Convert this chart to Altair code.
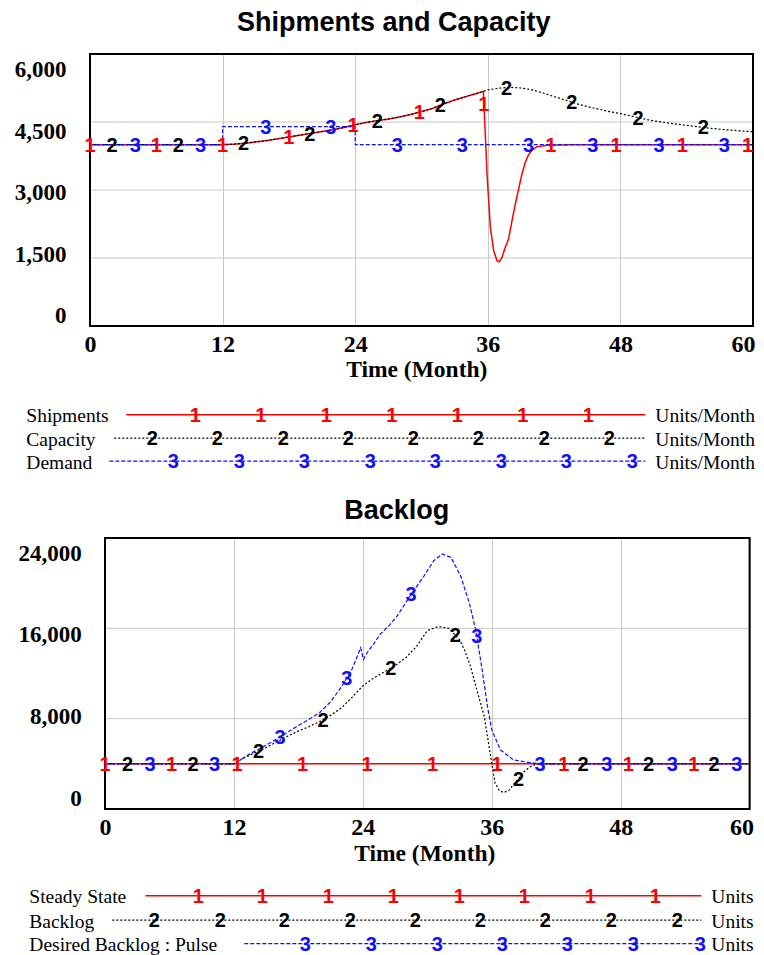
import altair as alt
import numpy as np
import pandas as pd

# ---------------- Shipments and Capacity (Units/Month) ----------------
capacity_t = [0, 12, 13, 14, 15, 16, 17, 18, 19, 20, 21, 22, 23, 24, 25, 26, 27, 28, 29, 30,
              31, 32, 33, 34, 35, 35.6, 36, 37, 38, 39, 40, 41, 42, 43, 44, 45, 46, 47, 48, 49,
              50, 51, 52, 53, 54, 55, 56, 57, 58, 59, 60]
capacity_v = [4000, 4000, 4010, 4030, 4060, 4090, 4130, 4170, 4210, 4250, 4290, 4330, 4380, 4440,
              4490, 4530, 4565, 4610, 4665, 4730, 4800, 4900, 4985, 5060, 5130, 5175, 5210, 5245,
              5265, 5250, 5210, 5140, 5060, 4985, 4905, 4840, 4785, 4730, 4685, 4630, 4575, 4525,
              4490, 4455, 4425, 4395, 4365, 4340, 4320, 4300, 4285]

shipments_t = [0, 12, 13, 14, 15, 16, 17, 18, 19, 20, 21, 22, 23, 24, 25, 26, 27, 28, 29, 30,
               31, 32, 33, 34, 35, 35.6, 35.8, 35.93, 36.23, 36.53, 36.83, 37.04, 37.28, 37.58,
               37.88, 38.19, 38.49, 38.79, 39.09, 39.39, 39.69, 40.0, 40.45, 41.36, 44, 60]
shipments_v = [4000, 4000, 4010, 4030, 4060, 4090, 4130, 4170, 4210, 4250, 4290, 4330, 4380, 4440,
               4490, 4530, 4565, 4610, 4665, 4730, 4800, 4900, 4985, 5060, 5130, 5175, 4088, 3353,
               2176, 1661, 1441, 1418, 1514, 1735, 1919, 2323, 2691, 3022, 3353, 3610, 3779, 3882,
               3955, 3985, 4000, 4000]

demand_t = [0, 12, 24, 60]
demand_v = [4000, 4400, 4000, 4000]

shipments_marks = [0, 6, 12, 18, 23.8, 29.8, 35.65, 41.7, 47.6, 53.6, 59.5]
capacity_marks = [2.0, 8.0, 13.9, 19.9, 26.0, 31.7, 37.7, 43.6, 49.6, 55.5]
demand_marks = [4.1, 10.0, 15.9, 21.8, 27.8, 33.7, 39.7, 45.5, 51.5, 57.4]

# ---------------- Backlog (Units) ----------------
steady_t = [0, 60]
steady_v = [4000, 4000]

backlog_t = [0, 12, 13, 14, 15, 16, 17, 18, 19, 20, 21, 22, 23, 24, 25, 26, 27, 28, 29, 30, 31,
             32, 33, 33.5, 34, 34.6, 35.3, 35.9, 36.3, 36.7, 37.1, 37.6, 38, 38.5, 39, 39.5, 40,
             41, 60]
backlog_v = [4000, 4000, 4550, 5000, 5450, 5950, 6450, 6900, 7300, 7750, 8300, 8950, 9900, 10900,
             11600, 12150, 12700, 13400, 14400, 15800, 16150, 16000, 15000, 14000, 12700, 10600,
             8200, 4650, 2300, 1650, 1450, 1650, 2150, 2700, 3300, 3700, 3920, 4000, 4000]

desired_t = [0, 12, 13, 14, 15, 16, 17, 18, 19, 20, 21, 22, 23, 23.8, 24.05, 24.4, 25, 25.6,
             26.5, 27.2, 28.4, 29.7, 30.6, 31.4, 32.2, 33.1, 33.9, 34.5, 35.1, 35.6, 36.0, 36.8,
             38.0, 39.3, 40.5, 60]
desired_v = [4000, 4000, 4600, 5150, 5650, 6200, 6800, 7400, 7950, 8550, 9500, 10800, 12400,
             14281, 13244, 13837, 14600, 15467, 16300, 17096, 18874, 20652, 21985, 22578, 22281,
             20652, 18281, 15911, 12355, 9096, 7022, 5244, 4356, 4148, 4000, 4000]

steady_marks = [0, 6.2, 12.3, 18.4, 24.4, 30.5, 36.5, 42.7, 48.7, 54.8]
backlog_marks = [2.1, 8.2, 14.3, 20.3, 26.6, 32.6, 38.5, 44.5, 50.6, 56.7]
desired_marks = [4.2, 10.2, 16.3, 22.5, 28.5, 34.6, 40.5, 46.7, 52.8, 58.8]

top_title = "Shipments and Capacity"
bot_title = "Backlog"
top_names = ["Shipments", "Capacity", "Demand"]
top_units = ["Units/Month", "Units/Month", "Units/Month"]
bot_names = ["Steady State", "Backlog", "Desired Backlog : Pulse"]
bot_units = ["Units", "Units", "Units"]
x_ticks = [0, 12, 24, 36, 48, 60]
top_y_ticks = [0, 1500, 3000, 4500, 6000]
bot_y_ticks = [0, 8000, 16000, 24000]

# ---------------- styles / layout (page-pixel positions of decorations) ----------------
SERIF = "Liberation Serif, Times New Roman, serif"
SANS = "Liberation Sans, Arial, sans-serif"
COLORS = ["#ff0000", "#000000", "#1010ff"]
DASHES = [[1, 0], [2, 2], [4, 2]]
WIDTHS = [1.5, 1.2, 1.2]
GRID = "#c8c8c8"
MARK_SIZE = 20
VIEW_LEFT = 89.7  # both panels share this view origin; the Backlog frame is inset

TOP_LAYOUT = dict(
    x0=89.7, x1=752.7, top=53.3, H=272, ymax=6000, ylab_pad=24,
    ylab_expr="22.8 - 26*(6000 - datum.value)/6000",
    xlab_expr="datum.value == 60 ? -10 : 0",
    xlab_pad=25, xtitle_x=416, xtitle_y=50,
    title_xy=(393.5, 30),
    leg_rows=[414, 437.5, 460.5], name_x=26, units_x=655, leg_end=645,
    leg_start=[126, 114, 109],
    leg_marks=[[195, 260.5, 326, 391.5, 457, 522.5, 588],
               [152, 217, 283, 348, 413, 478, 544, 609],
               [173, 239, 304, 370, 435, 501, 566, 632]],
)
BOT_LAYOUT = dict(
    x0=104.7, x1=749.3, top=539.3, H=271, ymax=24000, ylab_pad=8.7,
    ylab_expr="22.3 - 26*(24000 - datum.value)/24000",
    xlab_expr="datum.value == 60 ? -8 : 0",
    xlab_pad=25, xtitle_x=424, xtitle_y=51,
    title_xy=(396.5, 520),
    leg_rows=[897, 921.5, 945], name_x=29, units_x=711, leg_end=701,
    leg_start=[145, 112, 244],
    leg_marks=[[198, 262, 328, 393, 459, 524, 590, 655],
               [154, 220, 284, 350, 415, 480, 545, 611, 677],
               [305, 371, 437, 502, 567, 633, 700]],
)


def sample(t, v, ts, step=False):
    t = np.asarray(t, float)
    v = np.asarray(v, float)
    ts = np.asarray(ts, float)
    if step:
        idx = np.clip(np.searchsorted(t, ts, side="right") - 1, 0, len(v) - 1)
        return v[idx]
    return np.interp(ts, t, v)


def make_panel(title, series, marks, names, units, yticks, L):
    W = L["x1"] - VIEW_LEFT
    H = L["H"]
    X = alt.X("t:Q", scale=alt.Scale(domain=[0, 60], range=[L["x0"] - VIEW_LEFT, W],
                                     nice=False, zero=False),
              axis=alt.Axis(values=x_ticks, format="d", title="Time (Month)",
                            titleFont=SERIF, titleFontSize=23.5, titleFontWeight="bold",
                            titleColor="black", titleBaseline="alphabetic", titleAlign="center",
                            titleX=L["xtitle_x"] - VIEW_LEFT, titleY=L["xtitle_y"],
                            labelFont=SERIF, labelFontSize=24, labelFontWeight="bold",
                            labelColor="black", labelBaseline="alphabetic",
                            labelOffset=alt.ExprRef(L["xlab_expr"]),
                            labelPadding=L["xlab_pad"], labelFlush=False, labelOverlap=False,
                            ticks=False, tickSize=0, domain=False,
                            grid=True, gridColor=GRID, gridWidth=1))
    Y = alt.Y("v:Q", scale=alt.Scale(domain=[0, L["ymax"]], nice=False, zero=False),
              axis=alt.Axis(values=yticks, format=",d", title=None,
                            labelFont=SERIF, labelFontSize=23, labelFontWeight="bold",
                            labelColor="black", labelBaseline="alphabetic", labelAlign="right",
                            labelPadding=L["ylab_pad"], labelOffset=alt.ExprRef(L["ylab_expr"]),
                            labelFlush=False, labelOverlap=False,
                            ticks=False, tickSize=0, domain=False, grid=False))
    layers = []
    gdf = pd.DataFrame({"v": yticks, "t": 0, "t2": 60})
    layers.append(alt.Chart(gdf).mark_rule(color=GRID, strokeWidth=1)
                  .encode(x=X, x2="t2:Q", y=Y))
    for i, (t, v, step) in enumerate(series):
        df = pd.DataFrame({"t": t, "v": v})
        layers.append(
            alt.Chart(df).mark_line(color=COLORS[i], strokeDash=DASHES[i], strokeWidth=WIDTHS[i],
                                    interpolate="step-after" if step else "linear")
            .encode(x=X, y=Y))
    fdf = pd.DataFrame({"t": [0], "t2": [60], "v": [0], "v2": [L["ymax"]]})
    layers.append(alt.Chart(fdf).mark_rect(fillOpacity=0, stroke="black", strokeWidth=2)
                  .encode(x=X, x2="t2:Q", y=Y, y2="v2:Q"))
    for i, (t, v, step) in enumerate(series):
        mt = marks[i]
        df = pd.DataFrame({"t": mt, "v": sample(t, v, mt, step), "s": str(i + 1)})
        layers.append(
            alt.Chart(df).mark_text(font=SANS, fontSize=MARK_SIZE, fontWeight="bold",
                                    color=COLORS[i], baseline="alphabetic", dy=7)
            .encode(x=X, y=Y, text="s:N"))
    main = alt.layer(*layers)

    LX = alt.Scale(domain=[VIEW_LEFT, VIEW_LEFT + W], range=[0, W], nice=False, zero=False)
    LY = alt.Scale(domain=[L["top"], L["top"] + H], range=[0, H], nice=False, zero=False)
    lx = alt.X("x:Q", scale=LX, axis=None)
    ly = alt.Y("y:Q", scale=LY, axis=None)
    leg = []
    tx, ty = L["title_xy"]
    leg.append(
        alt.Chart(pd.DataFrame({"x": [tx], "y": [ty], "s": [title]}))
        .mark_text(font=SANS, fontSize=27, fontWeight="bold", color="black",
                   align="center", baseline="alphabetic")
        .encode(x=lx, y=ly, text="s:N"))
    for i in range(3):
        ry = L["leg_rows"][i]
        ldf = pd.DataFrame({"x": [L["leg_start"][i]], "x2": [L["leg_end"]], "y": [ry]})
        leg.append(
            alt.Chart(ldf).mark_rule(color=COLORS[i], strokeDash=DASHES[i], strokeWidth=WIDTHS[i])
            .encode(x=lx, x2="x2:Q", y=ly))
        mdf = pd.DataFrame({"x": L["leg_marks"][i], "y": ry, "s": str(i + 1)})
        leg.append(
            alt.Chart(mdf).mark_text(font=SANS, fontSize=MARK_SIZE, fontWeight="bold",
                                     color=COLORS[i], baseline="alphabetic", dy=7)
            .encode(x=lx, y=ly, text="s:N"))
        tdf = pd.DataFrame({"x": [L["name_x"], L["units_x"]], "y": [ry, ry],
                            "s": [names[i], units[i]]})
        leg.append(
            alt.Chart(tdf).mark_text(font=SERIF, fontSize=19.5, align="left",
                                     baseline="alphabetic", dy=7.7, color="black")
            .encode(x=lx, y=ly, text="s:N"))
    legend = alt.layer(*leg)

    return (alt.layer(main, legend)
            .resolve_scale(x="independent", y="independent")
            .properties(width=W, height=H))


top = make_panel(top_title,
                 [(shipments_t, shipments_v, False), (capacity_t, capacity_v, False),
                  (demand_t, demand_v, True)],
                 [shipments_marks, capacity_marks, demand_marks],
                 top_names, top_units, top_y_ticks, TOP_LAYOUT)
bottom = make_panel(bot_title,
                    [(steady_t, steady_v, False), (backlog_t, backlog_v, False),
                     (desired_t, desired_v, False)],
                    [steady_marks, backlog_marks, desired_marks],
                    bot_names, bot_units, bot_y_ticks, BOT_LAYOUT)

chart = (alt.vconcat(top, bottom, spacing=23)
         .properties(padding={"left": 6, "top": 0, "right": 0, "bottom": 0}, background="white")
         .configure_view(strokeWidth=0))

chart.save("out.html", embed_options={"renderer": "svg", "actions": False})
